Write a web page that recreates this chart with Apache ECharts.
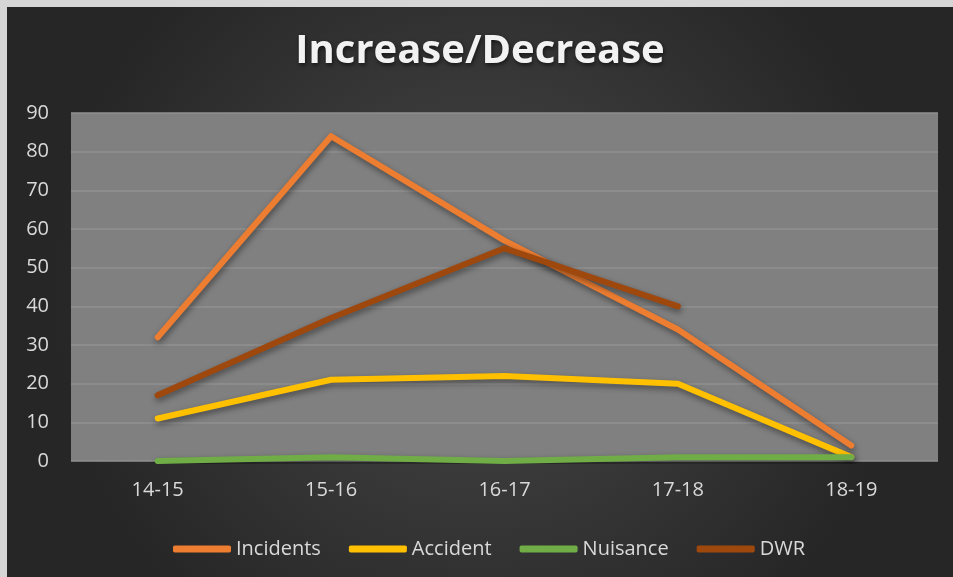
<!DOCTYPE html>
<html>
<head>
<meta charset="utf-8">
<script src="https://cdn.jsdelivr.net/npm/echarts@6/dist/echarts.min.js"></script>
<style>
    html, body { margin: 0; padding: 0; background: #d6d6d6; }
    #chart { position: absolute; left: 7px; top: 7px; width: 946px; height: 570px; }
</style>
</head>
<body>
<div id="chart"></div>
<script>
    // data
    var years = ['14-15', '15-16', '16-17', '17-18', '18-19'];
    var incidents = [32, 84, 57, 34, 4];
    var accident = [11, 21, 22, 20, 1];
    var nuisance = [0, 1, 0, 1, 1];
    var dwr = [17, 37, 55, 40, null];

    var font = '"Open Sans", "Noto Sans", sans-serif';

    function lineSeries(name, data, color) {
        return {
            name: name,
            type: 'line',
            data: data,
            symbol: 'none',
            lineStyle: {
                width: 6,
                color: color,
                cap: 'round',
                join: 'round',
                shadowColor: 'rgba(0,0,0,0.45)',
                shadowBlur: 6,
                shadowOffsetX: 1,
                shadowOffsetY: 3
            },
            itemStyle: { color: color }
        };
    }

    var myChart = echarts.init(document.getElementById('chart'));
    myChart.setOption({
        backgroundColor: {
            type: 'radial', x: 0.5, y: 0.5, r: 0.75,
            colorStops: [
                { offset: 0, color: '#484848' },
                { offset: 1, color: '#262626' }
            ]
        },
        title: {
            text: 'Increase/Decrease',
            left: 'center',
            top: 20,
            textStyle: {
                fontFamily: font,
                fontSize: 40,
                fontWeight: 'bold',
                color: '#f2f2f2',
                textShadowColor: 'rgba(0,0,0,0.6)',
                textShadowBlur: 4,
                textShadowOffsetX: 1,
                textShadowOffsetY: 2
            }
        },
        grid: {
            left: 64,
            right: 15,
            top: 106,
            bottom: 116,
            show: true,
            backgroundColor: '#808080',
            borderWidth: 0
        },
        legend: {
            top: 527,
            left: 161,
            icon: 'roundRect',
            itemWidth: 58,
            itemHeight: 7,
            itemGap: 28,
            textStyle: { fontFamily: font, fontSize: 20, color: '#d9d9d9' },
            data: ['Incidents', 'Accident', 'Nuisance', 'DWR']
        },
        xAxis: {
            type: 'category',
            data: years,
            boundaryGap: true,
            axisLine: { show: false },
            axisTick: { show: false },
            axisLabel: { fontFamily: font, fontSize: 20, color: '#d9d9d9', margin: 19 }
        },
        yAxis: {
            type: 'value',
            min: 0,
            max: 90,
            interval: 10,
            axisLine: { show: false },
            axisTick: { show: false },
            axisLabel: { fontFamily: font, fontSize: 20, color: '#d9d9d9', margin: 22 },
            splitLine: { lineStyle: { color: '#919191', width: 1.5 } }
        },
        series: [
            lineSeries('Incidents', incidents, '#ED7D31'),
            lineSeries('Accident', accident, '#FFC000'),
            lineSeries('Nuisance', nuisance, '#70AD47'),
            lineSeries('DWR', dwr, '#9E480E')
        ]
    });
</script>
</body>
</html>
